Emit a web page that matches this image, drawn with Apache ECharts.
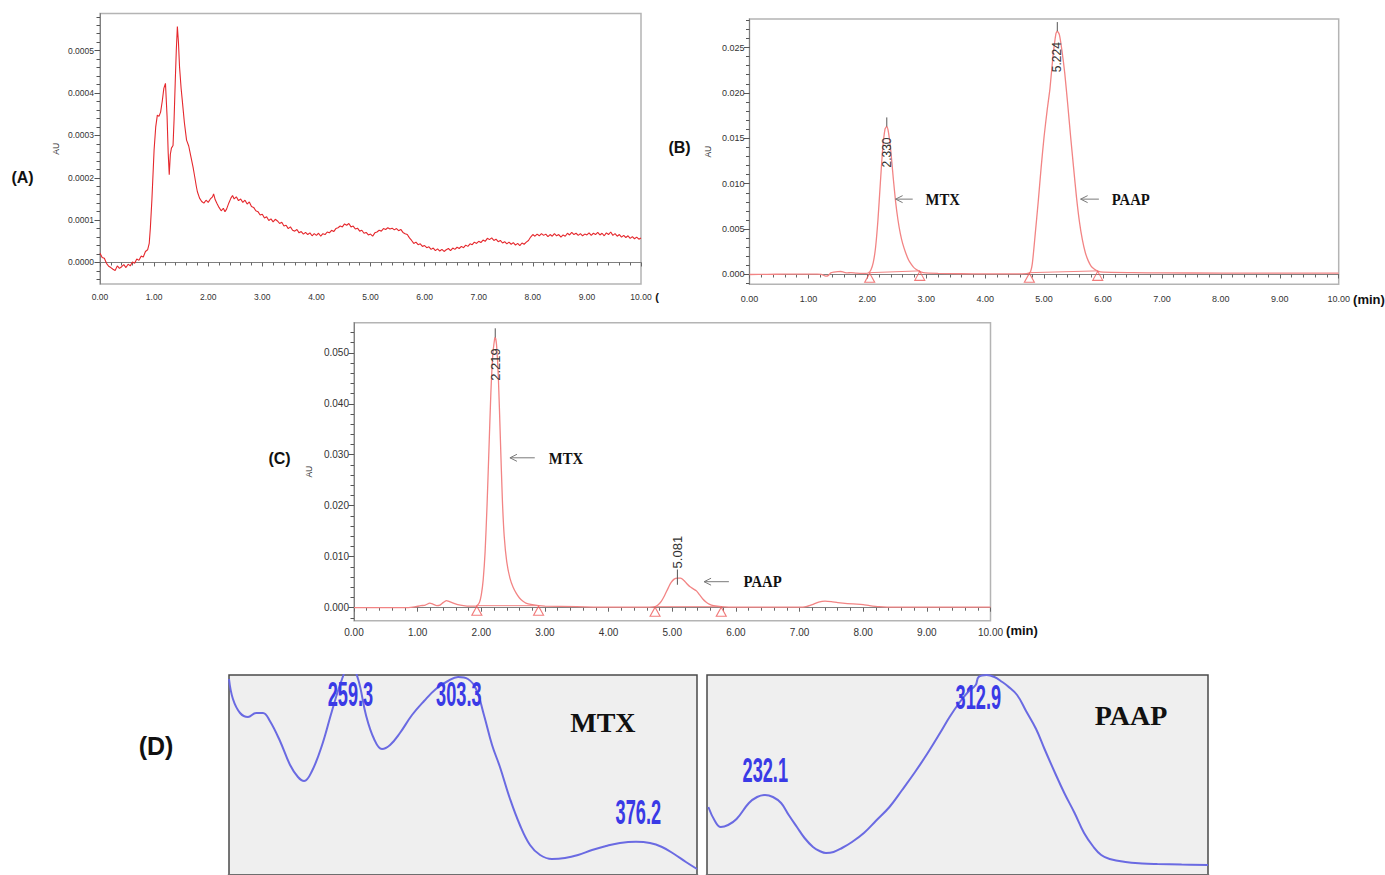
<!DOCTYPE html>
<html><head><meta charset="utf-8"><title>HPLC chromatograms and UV spectra</title>
<script src="https://cdn.jsdelivr.net/npm/echarts@6.0.0/dist/echarts.min.js"></script>
<style>html,body{margin:0;padding:0;background:#fff;}#chart{width:1385px;height:875px;}</style>
</head><body><div id="chart"></div>
<script>
// ================= DATA =================
const timeTicks = [0,1,2,3,4,5,6,7,8,9,10];           // min
const auTicksA = [0,0.0001,0.0002,0.0003,0.0004,0.0005];
const auTicksB = [0,0.005,0.010,0.015,0.020,0.025];
const auTicksC = [0,0.010,0.020,0.030,0.040,0.050];

// (A) blank chromatogram: [time (min), absorbance in units of 1e-4 AU]
const traceA_e4 = [
[0.00,0.22],[0.04,0.12],[0.08,0.10],[0.12,-0.02],[0.16,-0.09],[0.20,-0.12],[0.24,-0.16],[0.28,-0.19],[0.32,-0.08],[0.36,-0.14],
[0.40,-0.10],[0.44,-0.05],[0.48,-0.12],[0.52,-0.04],[0.56,-0.08],[0.60,0.01],[0.64,-0.02],[0.68,0.08],[0.72,0.05],[0.76,0.15],
[0.80,0.13],[0.84,0.26],[0.88,0.30],[0.91,0.45],[0.93,0.80],[0.96,1.50],[1.00,2.66],[1.03,3.20],[1.06,3.48],[1.09,3.45],
[1.12,3.55],[1.15,3.80],[1.18,4.11],[1.21,4.23],[1.24,3.44],[1.26,2.60],[1.28,2.07],[1.30,2.55],[1.32,2.70],[1.35,2.76],
[1.37,3.40],[1.39,4.23],[1.41,5.00],[1.43,5.57],[1.45,5.20],[1.47,4.62],[1.50,4.10],[1.52,3.84],[1.56,3.30],[1.60,2.89],
[1.64,2.75],[1.68,2.50],[1.72,2.25],[1.75,2.03],[1.78,1.80],[1.80,1.67],[1.84,1.52],[1.88,1.44],[1.92,1.40],[1.96,1.47],
[2.00,1.42],[2.04,1.50],[2.08,1.55],[2.10,1.62],[2.13,1.48],[2.16,1.40],[2.20,1.30],[2.24,1.22],[2.28,1.28],[2.31,1.20],
[2.34,1.26],[2.38,1.40],[2.42,1.52],[2.45,1.58],[2.48,1.50],[2.52,1.55],[2.56,1.46],[2.60,1.50],[2.64,1.42],[2.68,1.47],
[2.72,1.38],[2.76,1.43],[2.80,1.32],[2.84,1.30],[2.88,1.22],[2.92,1.20],[2.96,1.12],[3.00,1.14],[3.04,1.05],[3.08,1.08],
[3.12,0.99],[3.16,1.03],[3.20,0.96],[3.24,1.02],[3.28,0.98],[3.32,0.92],[3.36,0.95],[3.40,0.86],[3.44,0.88],[3.48,0.80],
[3.52,0.84],[3.56,0.76],[3.60,0.74],[3.64,0.78],[3.68,0.70],[3.72,0.73],[3.76,0.67],[3.80,0.71],[3.84,0.66],[3.88,0.70],
[3.92,0.63],[3.96,0.68],[4.00,0.64],[4.04,0.69],[4.08,0.62],[4.12,0.68],[4.16,0.66],[4.20,0.72],[4.24,0.70],[4.28,0.76],
[4.32,0.73],[4.36,0.80],[4.40,0.82],[4.44,0.86],[4.48,0.84],[4.52,0.91],[4.56,0.88],[4.60,0.92],[4.64,0.84],[4.68,0.86],
[4.72,0.79],[4.76,0.81],[4.80,0.74],[4.84,0.76],[4.88,0.69],[4.92,0.71],[4.96,0.65],[5.00,0.67],[5.04,0.62],[5.08,0.70],
[5.12,0.72],[5.16,0.76],[5.20,0.74],[5.24,0.80],[5.28,0.78],[5.32,0.82],[5.36,0.79],[5.40,0.81],[5.44,0.77],[5.48,0.80],
[5.52,0.75],[5.56,0.78],[5.60,0.71],[5.64,0.68],[5.68,0.66],[5.72,0.58],[5.76,0.52],[5.80,0.45],[5.84,0.48],[5.88,0.42],
[5.92,0.44],[5.96,0.38],[6.00,0.40],[6.04,0.35],[6.08,0.37],[6.12,0.31],[6.16,0.34],[6.20,0.28],[6.24,0.32],[6.28,0.27],
[6.32,0.31],[6.36,0.26],[6.40,0.30],[6.44,0.33],[6.48,0.28],[6.52,0.34],[6.56,0.31],[6.60,0.36],[6.64,0.33],[6.68,0.38],
[6.72,0.35],[6.76,0.41],[6.80,0.38],[6.84,0.44],[6.88,0.42],[6.92,0.48],[6.96,0.45],[7.00,0.50],[7.04,0.47],[7.08,0.53],
[7.12,0.50],[7.16,0.57],[7.20,0.54],[7.24,0.58],[7.28,0.52],[7.32,0.55],[7.36,0.49],[7.40,0.52],[7.44,0.46],[7.48,0.49],
[7.52,0.44],[7.56,0.48],[7.60,0.43],[7.64,0.47],[7.68,0.41],[7.72,0.45],[7.76,0.40],[7.80,0.46],[7.84,0.43],[7.88,0.48],
[7.92,0.52],[7.96,0.60],[8.00,0.66],[8.04,0.62],[8.08,0.67],[8.12,0.63],[8.16,0.68],[8.20,0.64],[8.24,0.67],[8.28,0.61],
[8.32,0.66],[8.36,0.62],[8.40,0.68],[8.44,0.63],[8.48,0.66],[8.52,0.60],[8.56,0.65],[8.60,0.62],[8.64,0.69],[8.68,0.65],
[8.72,0.71],[8.76,0.66],[8.80,0.69],[8.84,0.64],[8.88,0.68],[8.92,0.63],[8.96,0.67],[9.00,0.65],[9.04,0.70],[9.08,0.64],
[9.12,0.69],[9.16,0.66],[9.20,0.71],[9.24,0.65],[9.28,0.69],[9.32,0.63],[9.36,0.70],[9.40,0.66],[9.44,0.72],[9.48,0.64],
[9.52,0.68],[9.56,0.62],[9.60,0.66],[9.64,0.60],[9.68,0.64],[9.72,0.59],[9.76,0.63],[9.80,0.57],[9.84,0.61],[9.88,0.56],
[9.92,0.60],[9.96,0.55],[10.00,0.58]
];

// (B) standard mixture: [time (min), AU]
const traceB = [
[0,0],[0.3,0.00002],[0.6,0.00003],[0.9,0.00005],[1.15,0.00005],[1.22,0.00002],[1.27,-0.00012],[1.30,-0.00018],[1.34,-0.00010],
[1.38,0.00018],[1.43,0.00026],[1.50,0.00032],[1.55,0.00033],[1.60,0.00025],[1.66,0.00018],[1.72,0.00020],[1.80,0.00016],
[1.90,0.00012],[1.97,0.00012],[2.02,0.0002],[2.06,0.0005],[2.10,0.0013],[2.14,0.0030],[2.18,0.0060],[2.22,0.0100],
[2.26,0.0138],[2.30,0.0160],[2.33,0.0163],[2.36,0.0156],[2.40,0.0135],[2.44,0.0106],[2.48,0.0080],[2.52,0.0060],
[2.56,0.0045],[2.60,0.0034],[2.65,0.0024],[2.70,0.0016],[2.75,0.0011],[2.80,0.0007],[2.87,0.0004],[2.95,0.0002],
[3.2,0.00012],[3.6,0.00008],[4.0,0.00006],[4.4,0.00006],[4.70,0.0001],[4.76,0.0002],[4.80,0.0012],[4.85,0.0045],
[4.90,0.0080],[4.95,0.0118],[5.00,0.0152],[5.05,0.0180],[5.10,0.0205],[5.15,0.0240],[5.20,0.0265],[5.224,0.0268],
[5.26,0.0264],[5.30,0.0248],[5.35,0.0222],[5.40,0.0188],[5.45,0.0152],[5.50,0.0118],[5.55,0.0085],[5.60,0.0058],
[5.65,0.0038],[5.70,0.0024],[5.75,0.0015],[5.80,0.0009],[5.85,0.0006],[5.90,0.0004],[6.0,0.00025],[6.5,0.0002],
[7.0,0.00018],[8.0,0.00015],[9.0,0.00015],[10.0,0.00015]
];

// (C) sample: [time (min), AU]
const traceC = [
[0,0],[0.5,0],[0.85,0.00002],[0.95,0.00015],[1.05,0.0004],[1.12,0.0005],[1.19,0.0009],[1.24,0.0007],[1.30,0.0004],
[1.35,0.0005],[1.40,0.0010],[1.45,0.0014],[1.50,0.0012],[1.56,0.0009],[1.63,0.0006],[1.72,0.0004],[1.82,0.0003],
[1.90,0.0003],[1.93,0.0004],[1.97,0.0010],[2.00,0.0025],[2.03,0.0055],[2.06,0.0110],[2.09,0.0200],[2.12,0.0310],
[2.15,0.0420],[2.18,0.0495],[2.21,0.0528],[2.219,0.0530],[2.24,0.0515],[2.27,0.0445],[2.30,0.0330],[2.33,0.0215],
[2.36,0.0140],[2.40,0.0090],[2.45,0.0058],[2.50,0.0040],[2.55,0.0028],[2.60,0.0019],[2.65,0.0013],[2.70,0.0009],
[2.80,0.0006],[2.90,0.0004],[3.0,0.0003],[3.5,0.0002],[4.0,0.0001],[4.5,0.0001],[4.73,0.0002],[4.78,0.0006],
[4.83,0.0013],[4.88,0.0024],[4.93,0.0037],[4.98,0.0049],[5.03,0.0056],[5.08,0.0058],[5.13,0.0058],[5.18,0.0054],
[5.23,0.0047],[5.28,0.0041],[5.33,0.0037],[5.38,0.0033],[5.43,0.0025],[5.48,0.0017],[5.53,0.0011],[5.58,0.0007],
[5.65,0.0004],[5.77,0.0002],[6.0,0.0001],[6.5,0.0001],[7.0,0.0001],[7.1,0.0002],[7.2,0.0006],[7.3,0.0011],
[7.4,0.0013],[7.5,0.0012],[7.6,0.0010],[7.75,0.0008],[7.9,0.0007],[8.0,0.0006],[8.1,0.0004],[8.25,0.0002],
[8.5,0.0001],[9.0,0.0001],[10,0.0001]
];

const peakTimesB = [2.330, 5.224];
const peakHeightsB = [0.0163, 0.0268];
const peakLabelsB = ['2.330', '5.224'];
const peakTimesC = [2.219, 5.081];
const peakHeightsC = [0.0530, 0.0058];
const peakLabelsC = ['2.219', '5.081'];
// integration baseline segments (start, end) [time, AU]
const integrationB = [[[2.04,0.0002],[2.89,0.0004]], [[4.75,0.0002],[5.91,0.0004]]];
const integrationC = [[[1.93,0.0004],[2.90,0.0004]], [[4.73,0.0002],[5.77,0.0002]]];
const compounds = ['MTX', 'PAAP'];

// (D) UV spectra: [wavelength (nm), relative absorbance]
const spectrumMTX = [
[210,0.98],[211.6,0.88],[214.5,0.81],[217.7,0.79],[221,0.81],[223.8,0.81],[226.6,0.77],[230.7,0.67],[234.8,0.55],
[238,0.49],[240.5,0.47],[243.7,0.52],[247.8,0.65],[251.8,0.82],[255.9,0.98],[259.1,1.06],[262.4,0.98],[265.6,0.80],
[268.9,0.68],[272.1,0.63],[275.4,0.65],[279.4,0.71],[284.3,0.80],[289.2,0.87],[294,0.93],[298.9,0.97],[303,0.99],
[307,0.98],[310.3,0.93],[313.5,0.80],[316.8,0.65],[320,0.54],[324.1,0.38],[328.1,0.25],[332.2,0.15],[336.3,0.10],
[341.1,0.08],[346.4,0.085],[351.7,0.10],[357.4,0.125],[363.1,0.145],[368.7,0.16],[375.2,0.166],[380.9,0.16],
[385.8,0.14],[390.7,0.105],[395.5,0.065],[400,0.03]
];
const spectrumPAAP = [
[210.5,0.34],[213,0.27],[215.2,0.24],[218,0.25],[221.2,0.28],[225.9,0.36],[229,0.39],[232,0.40],[235,0.39],
[238.1,0.36],[241,0.30],[244.1,0.24],[247,0.185],[250.2,0.14],[252.7,0.12],[255.1,0.11],[258,0.115],[261.2,0.135],
[265,0.165],[269.5,0.21],[274,0.27],[279.2,0.34],[284,0.425],[288.9,0.515],[293.7,0.61],[298.6,0.715],[302,0.79],
[305.9,0.865],[309,0.915],[311.9,0.95],[313,0.99],[316,1.0],[319,0.99],[322,0.965],[324,0.945],[327.6,0.9],[331,0.82],
[334.8,0.73],[338,0.63],[342,0.51],[345.5,0.41],[349.4,0.31],[353,0.21],[356.6,0.14],[359.5,0.1],[362.7,0.08],
[368.7,0.065],[375,0.058],[380.8,0.055],[390,0.052],[400,0.05]
];
const maximaMTX = [259.3, 303.3, 376.2];
const maximaPAAP = [232.1, 312.9];

// ================= LAYOUT / STYLE =================
const FONT = '"Liberation Sans", Arial, sans-serif';
const SERIF = '"Liberation Serif", "Times New Roman", serif';
const RED_A = '#e5282d', RED = '#f28484', BLUE = '#6a6ae2', LBLUE = '#3a3ae6';
const AXC = '#808080';
const labelLevelsMTX = [0.905, 0.905, 0.315];
const labelLevelsPAAP = [0.525, 0.89];
const annotB = [{from:[2.77,0.0083], to:[2.48,0.0083], text:[3.28,0.0083]}, {from:[5.93,0.0083], to:[5.62,0.0083], text:[6.47,0.0083]}];
const annotC = [{from:[2.84,0.0294], to:[2.45,0.0294], text:[3.33,0.0294]}, {from:[5.89,0.0051], to:[5.50,0.0051], text:[6.42,0.0051]}];

function timeAxis(grid, fs, margin){
  return { type:'value', gridIndex:grid, min:0, max:10, interval:1,
    axisLine:{show:true, lineStyle:{color:AXC, width:1}},
    axisTick:{show:true, length:4, lineStyle:{color:'#666'}},
    minorTick:{show:true, splitNumber:5, length:3, lineStyle:{color:'#666'}},
    axisLabel:{fontSize:fs, fontFamily:FONT, color:'#333', margin:margin, formatter:v=>v.toFixed(2)},
    splitLine:{show:false}, minorSplitLine:{show:false} };
}
function auAxis(grid, min, max, labels, dec, fs, gap, margin){
  return { type:'value', gridIndex:grid, position:'left', min:min, max:max,
    name:'AU', nameLocation:'middle', nameGap:gap, nameRotate:90,
    nameTextStyle:{fontSize:8.5, fontFamily:FONT, color:'#333'},
    axisLine:{show:true, lineStyle:{color:AXC, width:1}},
    axisTick:{show:true, length:5.5, customValues:labels, lineStyle:{color:'#555'}},
    axisLabel:{fontSize:fs, fontFamily:FONT, color:'#333', margin:margin, customValues:labels, formatter:v=>v.toFixed(dec)},
    splitLine:{show:false} };
}
function specXAxis(grid){
  return { type:'value', gridIndex:grid, min:210, max:400, interval:5, position:'top',
    axisLine:{show:true, lineStyle:{color:'#6e6e6e', width:3}},
    axisTick:{show:true, inside:true, length:2, lineStyle:{color:'#444'}},
    axisLabel:{show:false}, splitLine:{show:false} };
}

const A_MIN=-0.0000508, A_MAX=0.0005878, B_MIN=-0.00108, B_MAX=0.02814, C_MIN=-0.00255, C_MAX=0.0559;
const plotBoxes = [
  {left:100, top:13.5, width:541, height:270.5},
  {left:749.5, top:19, width:589.2, height:265.3},
  {left:354, top:322.7, width:636.5, height:298}
];
// minor-tick ranges (lo, hi, step, axisMin, axisMax) for the AU axes
const minorRanges = [[-0.00004,0.00058,0.00002,A_MIN,A_MAX],[-0.001,0.028,0.001,B_MIN,B_MAX],[-0.002,0.054,0.002,C_MIN,C_MAX]];

const grids = plotBoxes.map(b=>Object.assign({}, b, {show:true, borderColor:'#b4b4b4', borderWidth:1.5}))
  .concat([
    {left:229, top:675, width:468, height:200, show:true, borderColor:'#4a4a4a', borderWidth:1.5, backgroundColor:'#efefef'},
    {left:707, top:675, width:501, height:200, show:true, borderColor:'#4a4a4a', borderWidth:1.5, backgroundColor:'#efefef'}
  ]);
// overlay grids carrying only the minor ticks of the AU axes
minorRanges.forEach((r,i)=>{
  const b = plotBoxes[i], pix = v => b.top + b.height*(r[4]-v)/(r[4]-r[3]);
  grids.push({left:b.left, width:b.width, top:pix(r[1]), height:pix(r[0])-pix(r[1]), show:false});
});

const xAxes = [timeAxis(0,8.5,8), timeAxis(1,9,10), timeAxis(2,10,7), specXAxis(3), specXAxis(4),
  {type:'value', gridIndex:5, show:false}, {type:'value', gridIndex:6, show:false}, {type:'value', gridIndex:7, show:false}];
const yAxes = [
  auAxis(0, A_MIN, A_MAX, auTicksA, 4, 8.5, 40, 6),
  auAxis(1, B_MIN, B_MAX, auTicksB, 3, 9, 37.5, 5),
  auAxis(2, C_MIN, C_MAX, auTicksC, 3, 10, 40.5, 5),
  {type:'value', gridIndex:3, min:0, max:1, show:false},
  {type:'value', gridIndex:4, min:0, max:1, show:false}
].concat(minorRanges.map((r,i)=>({type:'value', gridIndex:5+i, position:'left', min:r[0], max:r[1], interval:r[2],
  axisLine:{show:true, lineStyle:{color:AXC, width:1}}, axisLabel:{show:false}, splitLine:{show:false},
  axisTick:{show:true, length:3.5, lineStyle:{color:'#555', width:1}}})));

function lineSeries(xi, yi, data, color, width, smooth){
  return {type:'line', xAxisIndex:xi, yAxisIndex:yi, data:data, showSymbol:false, symbol:'none',
    smooth:smooth||false, lineStyle:{color:color, width:width}, silent:true, animation:false, z:3};
}
const series = [];
series.push(lineSeries(0,0, traceA_e4.map(p=>[p[0], p[1]*1e-4]), RED_A, 1.1));
series.push(lineSeries(1,1, traceB, RED, 1.3, 0.2));
series.push(lineSeries(2,2, traceC, RED, 1.3, 0.2));
[[1,1,integrationB],[2,2,integrationC]].forEach(([xi,yi,segs])=>{
  segs.forEach(s=>series.push(lineSeries(xi,yi,s,RED,1)));
  series.push({type:'scatter', xAxisIndex:xi, yAxisIndex:yi, data:segs.flat(), symbol:'triangle', symbolSize:[10,9],
    symbolOffset:[0,5], silent:true, animation:false, z:4,
    itemStyle:{color:'rgba(255,255,255,0)', borderColor:'#ee5a5a', borderWidth:1.1}});
});
peakTimesB.forEach((t,i)=>series.push(lineSeries(1,1,[[t,peakHeightsB[i]],[t,peakHeightsB[i]+0.001]],'#555',1)));
series.push(lineSeries(2,2,[[peakTimesC[0],peakHeightsC[0]],[peakTimesC[0],peakHeightsC[0]+0.0018]],'#555',1));
series.push(lineSeries(2,2,[[peakTimesC[1],peakHeightsC[1]-0.0013],[peakTimesC[1],peakHeightsC[1]+0.0017]],'#555',1));
series.push(lineSeries(3,3, spectrumMTX, BLUE, 2, 0.4));
series.push(lineSeries(4,4, spectrumPAAP, BLUE, 2, 0.4));

const chart = echarts.init(document.getElementById('chart'), null, {renderer:'svg', width:1385, height:875});
chart.setOption({animation:false, backgroundColor:'#ffffff', grid:grids, xAxis:xAxes, yAxis:yAxes, series:series});

// ================= TEXT ANNOTATIONS =================
const conv = (xi, yi, pt) => chart.convertToPixel({xAxisIndex:xi, yAxisIndex:yi}, pt);
const g = [];
function T(x, y, text, font, fill, extra){
  g.push(Object.assign({type:'text', x:x, y:y, silent:true, z:10,
    style:{text:text, font:font, fill:fill, align:'center', verticalAlign:'middle', textAlign:'center', textVerticalAlign:'middle'}}, extra||{}));
}
function arrow(xi, yi, from, to){
  const a = conv(xi,yi,from), b = conv(xi,yi,to);
  g.push({type:'polyline', silent:true, z:10, shape:{points:[a,b]}, style:{stroke:'#7a7a7a', lineWidth:1, fill:null}});
  g.push({type:'polyline', silent:true, z:10, shape:{points:[[b[0]+7,b[1]-3.5],[b[0],b[1]],[b[0]+7,b[1]+3.5]]}, style:{stroke:'#7a7a7a', lineWidth:1, fill:null}});
}
T(22.5, 177.5, '(A)', 'bold 16px ' + FONT, '#111');
T(679.5, 147.5, '(B)', 'bold 16px ' + FONT, '#111');
T(279.5, 458.5, '(C)', 'bold 16px ' + FONT, '#111');
T(156, 746, '(D)', 'bold 25px ' + FONT, '#111');
T(1369, 299, '(min)', 'bold 13px ' + FONT, '#111');
T(1022, 630, '(min)', 'bold 13px ' + FONT, '#111');
T(657, 297, '(', 'bold 11px ' + FONT, '#111');
peakTimesB.forEach((t,i)=>{ const p = conv(1,1,[t,peakHeightsB[i]]); T(p[0], p[1]+26, peakLabelsB[i], '12px ' + FONT, '#333', {rotation:Math.PI/2}); });
{ const p = conv(2,2,[peakTimesC[0],peakHeightsC[0]]); T(p[0], p[1]+27, peakLabelsC[0], '13px ' + FONT, '#333', {rotation:Math.PI/2}); }
{ const p = conv(2,2,[peakTimesC[1],peakHeightsC[1]]); T(p[0], p[1]-26, peakLabelsC[1], '13px ' + FONT, '#333', {rotation:Math.PI/2}); }
[[1,1,annotB],[2,2,annotC]].forEach(([xi,yi,ann])=>{
  ann.forEach((a,i)=>{ arrow(xi,yi,a.from,a.to); const p = conv(xi,yi,a.text); T(p[0], p[1], compounds[i], 'bold 16px ' + SERIF, '#111', {scaleX:0.92}); });
});
maximaMTX.forEach((nm,i)=>{ const p = conv(3,3,[nm,labelLevelsMTX[i]]); T(p[0], p[1], nm.toFixed(1), 'bold 35px ' + FONT, LBLUE, {scaleX:0.52}); });
maximaPAAP.forEach((nm,i)=>{ const p = conv(4,4,[nm,labelLevelsPAAP[i]]); T(p[0], p[1], nm.toFixed(1), 'bold 35px ' + FONT, LBLUE, {scaleX:0.52}); });
{ const p = conv(3,3,[361.8,0.765]); T(p[0], p[1], compounds[0], 'bold 28px ' + SERIF, '#111'); }
{ const p = conv(4,4,[370.8,0.80]); T(p[0], p[1], compounds[1], 'bold 28px ' + SERIF, '#111'); }

chart.setOption({graphic:{elements:g}});
</script>
</body></html>
